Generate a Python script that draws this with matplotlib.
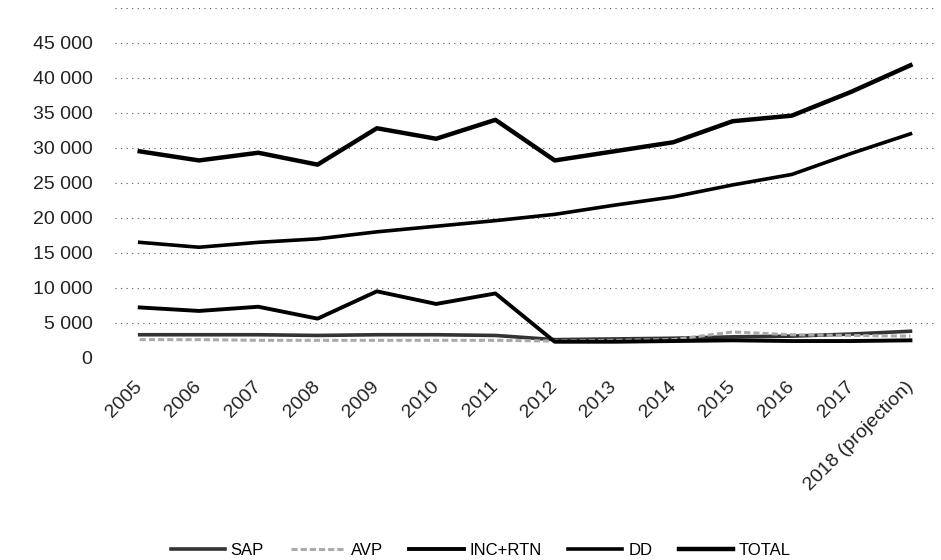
import matplotlib.pyplot as plt
from matplotlib.ticker import FuncFormatter

years = ['2005', '2006', '2007', '2008', '2009', '2010', '2011', '2012',
         '2013', '2014', '2015', '2016', '2017', '2018 (projection)']

sap = [3300, 3300, 3300, 3200, 3300, 3300, 3200, 2600, 2700, 2800, 3000, 3100, 3400, 3800]
avp = [2600, 2600, 2500, 2500, 2500, 2500, 2500, 2400, 2500, 2600, 3700, 3300, 3200, 3100]
inc_rtn = [7200, 6700, 7300, 5600, 9500, 7700, 9200, 2300, 2300, 2400, 2500, 2400, 2400, 2500]
dd = [16500, 15800, 16500, 17000, 18000, 18800, 19600, 20500, 21800, 23000, 24700, 26200, 29200, 32000]
total = [29500, 28200, 29300, 27600, 32800, 31300, 34000, 28200, 29500, 30800, 33800, 34600, 38000, 41800]

plt.rcParams['font.family'] = ['Liberation Sans', 'DejaVu Sans']

fig = plt.figure(figsize=(9.41, 5.6), dpi=100)
ax = fig.add_axes([0.122, 0.361, 0.872, 0.625])

x = list(range(len(years)))
ax.plot(x, sap, color='#333333', lw=2.6, label='SAP')
ax.plot(x, avp, color='#aaaaaa', lw=2.2, ls=(0, (2, 1)), label='AVP')
ax.plot(x, inc_rtn, color='black', lw=2.8, label='INC+RTN')
ax.plot(x, dd, color='black', lw=2.6, label='DD')
ax.plot(x, total, color='black', lw=3.2, label='TOTAL')

ax.set_xlim(-0.42, 13.42)
ax.set_ylim(0, 50000)
ax.set_yticks(range(0, 50001, 5000))
fmt = lambda v, p: '' if v >= 50000 else f'{int(v):,}'.replace(',', ' ')
ax.yaxis.set_major_formatter(FuncFormatter(fmt))
ax.set_xticks(x)
ax.set_xticklabels(years, rotation=45, ha='right', va='center', rotation_mode='anchor')

ax.grid(axis='y', color='#555555', ls=(0, (1, 4)), lw=0.8)
ax.set_axisbelow(True)
for s in ax.spines.values():
    s.set_visible(False)
ax.tick_params(length=0, labelsize=14, colors='#222222')
ax.tick_params(axis='y', pad=16)
ax.tick_params(axis='x', pad=19)

fig.legend(loc='center', bbox_to_anchor=(0.511, 0.017), ncol=5, frameon=False,
           fontsize=12, handlelength=3.25, columnspacing=1.6, handletextpad=0.35)

fig.savefig('out.png', dpi=100)
